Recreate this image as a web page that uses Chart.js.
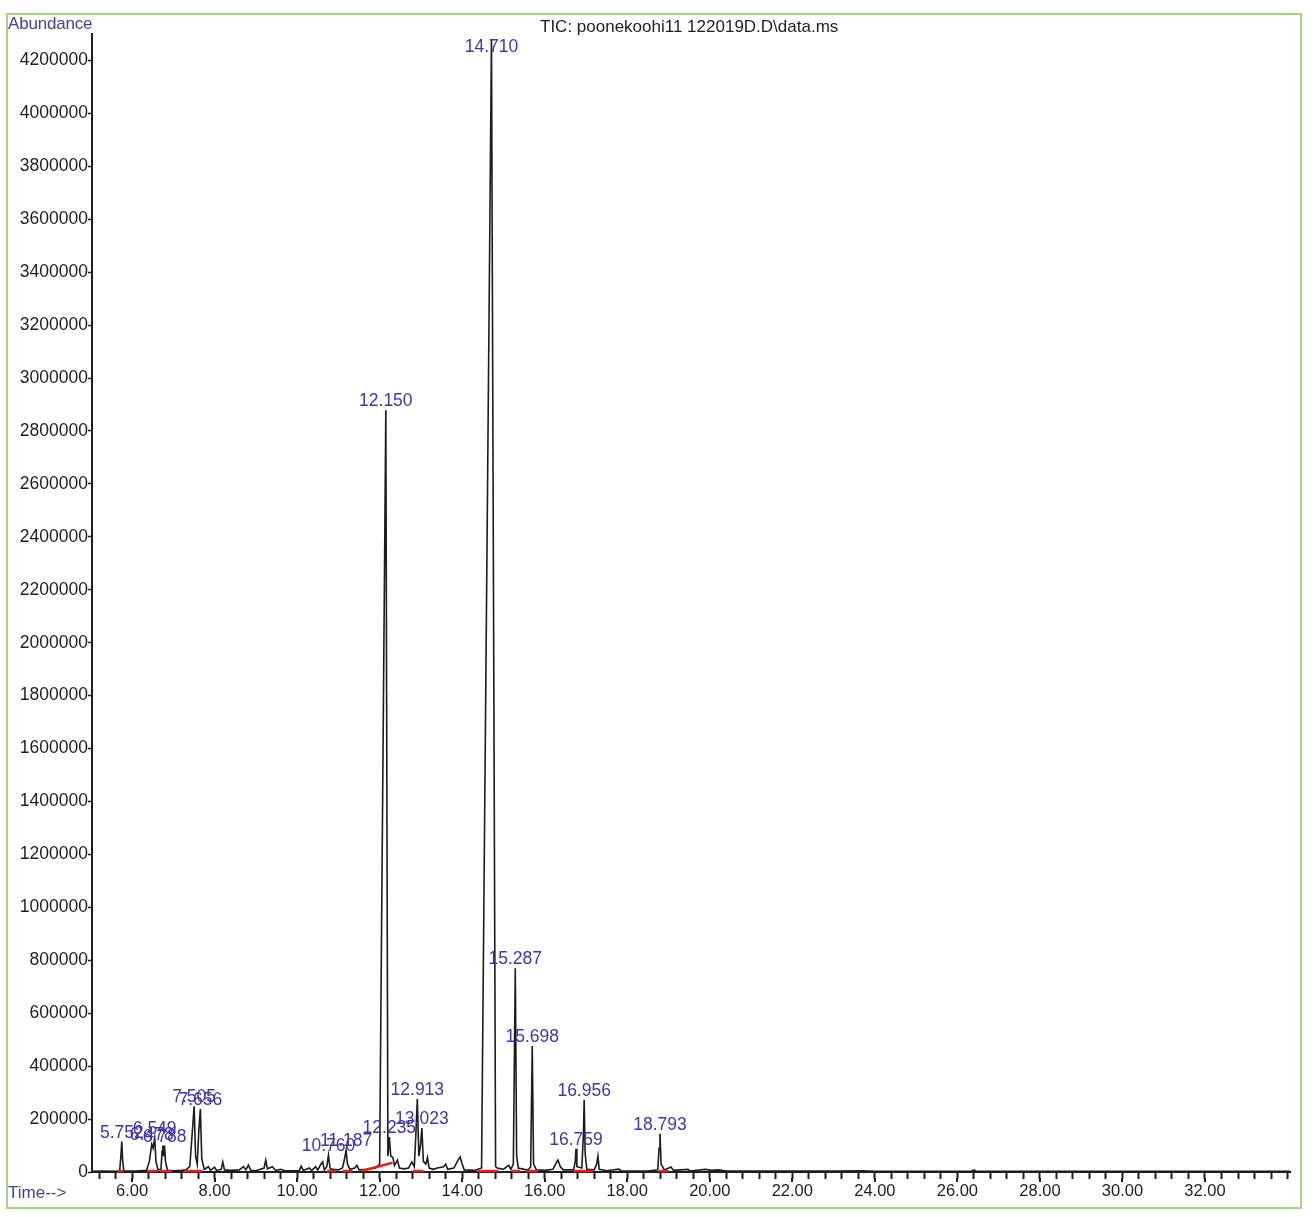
<!DOCTYPE html>
<html>
<head>
<meta charset="utf-8">
<script src="https://cdn.jsdelivr.net/npm/chart.js@4.4.1/dist/chart.umd.min.js"></script>
<style>
  html, body { margin: 0; padding: 0; background: #ffffff; }
  body { width: 1315px; height: 1217px; position: relative; overflow: hidden; font-family: "Liberation Sans", Arial, sans-serif; }
  #frame { position: absolute; left: 6px; top: 13px; width: 1292px; height: 1192px; border: 2px solid #a9d18e; }
  canvas { position: absolute; left: 0; top: 0; }
  .txt { position: absolute; line-height: 1; white-space: nowrap; }
</style>
</head>
<body>
<div id="frame"></div>
<canvas id="c" width="1315" height="1217"></canvas>
<div class="txt" style="left:8px; top:15px; font-size:17px; color:#4a3d9e; letter-spacing:-0.2px;">Abundance</div>
<div class="txt" style="left:540px; top:18px; font-size:17px; color:#1e1e1e;">TIC: poonekoohi11 122019D.D\data.ms</div>
<div class="txt" style="left:8px; top:1184px; font-size:17px; color:#4a3d9e;">Time--&gt;</div>
<script>
// ---- Data (time in min, abundance) ----
const retentionTime = [
  5.03, 5.30, 5.60, 5.70, 5.73, 5.752, 5.77, 5.80, 6.10, 6.35, 6.42, 6.478, 6.51, 6.549, 6.58, 6.63,
  6.70, 6.73, 6.748, 6.765, 6.788, 6.81, 6.86, 7.00, 7.20, 7.30, 7.40, 7.46, 7.505, 7.54, 7.58, 7.62,
  7.656, 7.69, 7.75, 7.85, 7.90, 8.00, 8.05, 8.16, 8.20, 8.24, 8.40, 8.60, 8.70, 8.76, 8.82, 8.88,
  9.00, 9.20, 9.24, 9.28, 9.40, 9.48, 9.60, 9.70, 10.05, 10.10, 10.15, 10.30, 10.35, 10.45, 10.50, 10.58,
  10.62, 10.66, 10.72, 10.76, 10.80, 10.88, 11.00, 11.10, 11.15, 11.187, 11.22, 11.28, 11.40, 11.45, 11.50, 11.70,
  11.90, 12.00, 12.15, 12.20, 12.235, 12.27, 12.32, 12.36, 12.43, 12.48, 12.60, 12.70, 12.78,
  12.84, 12.88, 12.913, 12.95, 12.99, 13.023, 13.06, 13.12, 13.16, 13.20, 13.30, 13.40, 13.55, 13.60, 13.65, 13.80,
  13.90, 13.95, 14.00, 14.05, 14.30, 14.47, 14.71, 14.81, 14.85, 15.00, 15.08, 15.13, 15.18,
  15.24, 15.287, 15.32, 15.36, 15.50, 15.60, 15.66, 15.698, 15.73, 15.80, 16.00, 16.20, 16.28, 16.32, 16.38, 16.45,
  16.70, 16.74, 16.759, 16.78, 16.90, 16.94, 16.956, 16.98, 17.02, 17.20, 17.26, 17.29, 17.32, 17.50, 17.80, 17.85,
  18.20, 18.50, 18.74, 18.77, 18.793, 18.82, 18.90, 19.06, 19.12, 19.47, 19.52, 19.90, 20.05, 20.20, 20.40, 21.00,
  23.10, 23.70, 24.00, 26.35, 26.40, 26.45, 28.00, 34.06
];
const abundance = [
  3000, 4000, 3000, 4000, 60000, 115000, 50000, 5000, 4000, 6000, 40000, 105000, 90000, 128000, 40000, 8000,
  10000, 80000, 100000, 60000, 100000, 40000, 6000, 5000, 6000, 8000, 20000, 150000, 248000, 60000, 30000, 160000,
  238000, 50000, 10000, 20000, 6000, 18000, 5000, 10000, 38000, 8000, 6000, 8000, 20000, 8000, 26000, 6000,
  5000, 15000, 45000, 12000, 20000, 6000, 10000, 5000, 5000, 22000, 6000, 15000, 5000, 20000, 8000, 30000,
  38000, 8000, 20000, 64000, 12000, 10000, 8000, 15000, 50000, 82000, 30000, 10000, 15000, 25000, 8000, 10000,
  15000, 30000, 2878000, 60000, 132000, 60000, 55000, 25000, 45000, 15000, 12000, 15000, 38000,
  20000, 150000, 276000, 60000, 100000, 166000, 40000, 30000, 55000, 15000, 10000, 15000, 20000, 30000, 10000, 15000,
  45000, 57000, 30000, 8000, 6000, 15000, 4280000, 20000, 15000, 10000, 20000, 25000, 10000,
  30000, 770000, 60000, 15000, 10000, 8000, 20000, 476000, 30000, 8000, 6000, 10000, 35000, 45000, 20000, 8000,
  8000, 40000, 88000, 20000, 15000, 150000, 272000, 70000, 10000, 8000, 30000, 60000, 10000, 5000, 11000, 4000,
  4000, 4000, 8000, 90000, 145000, 30000, 8000, 19000, 6000, 10000, 4000, 10000, 6000, 8000, 4000, 4000,
  4000, 5000, 3000, 4000, 8000, 3000, 3000, 3000
];

// Labelled peaks (retention times as printed)
const peakTimes = [5.752, 6.478, 6.549, 6.788, 7.505, 7.656, 10.760, 11.187, 12.150, 12.235,
                   12.913, 13.023, 14.710, 15.287, 15.698, 16.759, 16.956, 18.793];

// Integration baselines (red): start time, end time, start abundance, end abundance
const baseStart    = [5.64, 6.36, 6.68, 7.26, 10.73, 11.10, 11.58, 12.80, 14.37, 15.20, 15.54, 16.70, 18.77];
const baseEnd      = [5.80, 6.61, 6.97, 7.70, 10.93, 11.34, 12.31, 13.06, 14.88, 15.40, 15.83, 17.16, 19.00];
const baseStartVal = [4000, 4000, 4000, 4000, 4000, 4000, 5000, 4000, 4000, 4000, 4000, 4000, 4000];
const baseEndVal   = [4000, 4000, 4000, 4000, 4000, 4000, 35000, 4000, 4000, 4000, 4000, 4000, 4000];

// Axis ticks
const yTicks = [0, 200000, 400000, 600000, 800000, 1000000, 1200000, 1400000, 1600000, 1800000, 2000000,
                2200000, 2400000, 2600000, 2800000, 3000000, 3200000, 3400000, 3600000, 3800000, 4000000, 4200000];
const xMajorTicks = [6, 8, 10, 12, 14, 16, 18, 20, 22, 24, 26, 28, 30, 32];
const xTickLabels = ['6.00', '8.00', '10.00', '12.00', '14.00', '16.00', '18.00', '20.00', '22.00', '24.00', '26.00', '28.00', '30.00', '32.00'];
const xMinorStep = 0.4;

// ---- Build chart ----
const trace = retentionTime.map((t, i) => ({ x: t, y: abundance[i] }));
const baselinePts = [];
baseStart.forEach((s, i) => {
  baselinePts.push({ x: s, y: baseStartVal[i] });
  baselinePts.push({ x: baseEnd[i], y: baseEndVal[i] });
  baselinePts.push({ x: baseEnd[i] + 0.001, y: null });
});

const xTickValues = [];
for (let k = 13; k * xMinorStep <= 34.0; k++) {
  xTickValues.push(Math.round(k * xMinorStep * 10) / 10);
}

const FONT = '"Liberation Sans", Arial, sans-serif';

const peakLabelPlugin = {
  id: 'peakLabels',
  afterDatasetsDraw(chart) {
    const ctx = chart.ctx;
    const xs = chart.scales.x, ys = chart.scales.y;
    ctx.save();
    ctx.font = '17.5px ' + FONT;
    ctx.fillStyle = '#4236a6';
    ctx.textAlign = 'center';
    ctx.textBaseline = 'alphabetic';
    peakTimes.forEach(t => {
      const idx = retentionTime.indexOf(t);
      const h = abundance[idx];
      const px = xs.getPixelForValue(t);
      let py = ys.getPixelForValue(h) - 4;
      if (py < 52) py = 52;
      ctx.fillText(t.toFixed(3), px, py);
    });
    ctx.restore();
  }
};

const majorTickPlugin = {
  id: 'majorTicks',
  afterDraw(chart) {
    const ctx = chart.ctx;
    const xs = chart.scales.x;
    const y0 = chart.chartArea.bottom;
    ctx.save();
    ctx.strokeStyle = '#1e1e1e';
    ctx.lineWidth = 2;
    xMajorTicks.forEach(v => {
      const px = Math.round(xs.getPixelForValue(v));
      ctx.beginPath();
      ctx.moveTo(px, y0 + 6);
      ctx.lineTo(px, y0 + 10);
      ctx.stroke();
    });
    ctx.restore();
  }
};

new Chart(document.getElementById('c'), {
  type: 'line',
  data: {
    datasets: [
      {
        label: 'TIC',
        data: trace,
        borderColor: '#1c1c1c',
        borderWidth: 1.6,
        pointRadius: 0,
        tension: 0,
        fill: false,
        order: 2
      },
      {
        label: 'baseline',
        data: baselinePts,
        borderColor: '#e8201c',
        borderWidth: 2.5,
        pointRadius: 0,
        tension: 0,
        spanGaps: false,
        fill: false,
        clip: false,
        order: 1
      }
    ]
  },
  options: {
    responsive: false,
    animation: false,
    devicePixelRatio: 1,
    layout: { padding: { top: 34, right: 25, left: 0, bottom: 0 } },
    plugins: { legend: { display: false }, tooltip: { enabled: false }, title: { display: false } },
    scales: {
      x: {
        type: 'linear',
        min: 5.03,
        max: 34.06,
        afterFit(axis) { axis.height = 45; },
        afterBuildTicks(axis) {
          axis.ticks = xTickValues.map(v => ({ value: v, major: xMajorTicks.includes(v) }));
        },
        border: { display: true, color: '#1e1e1e', width: 2 },
        grid: {
          drawOnChartArea: false,
          drawTicks: true,
          tickLength: 7,
          tickColor: '#1e1e1e',
          tickWidth: 2
        },
        ticks: {
          autoSkip: false,
          maxRotation: 0,
          minRotation: 0,
          padding: 3,
          color: '#1e1e1e',
          font: { family: FONT, size: 16.5 },
          callback(value) {
            const i = xMajorTicks.indexOf(Math.round(value * 10) / 10);
            return i >= 0 ? xTickLabels[i] : '';
          }
        }
      },
      y: {
        type: 'linear',
        min: 0,
        max: 4300000,
        afterFit(axis) { axis.width = 92; },
        afterBuildTicks(axis) {
          axis.ticks = yTicks.map(v => ({ value: v }));
        },
        border: { display: true, color: '#1e1e1e', width: 2 },
        grid: {
          drawOnChartArea: false,
          drawTicks: true,
          tickLength: 4,
          tickColor: '#1e1e1e',
          tickWidth: 1.5
        },
        ticks: {
          padding: 0,
          color: '#1e1e1e',
          font: { family: FONT, size: 17.5 },
          callback(value) { return String(value); }
        }
      }
    }
  },
  plugins: [peakLabelPlugin, majorTickPlugin]
});
</script>
</body>
</html>
